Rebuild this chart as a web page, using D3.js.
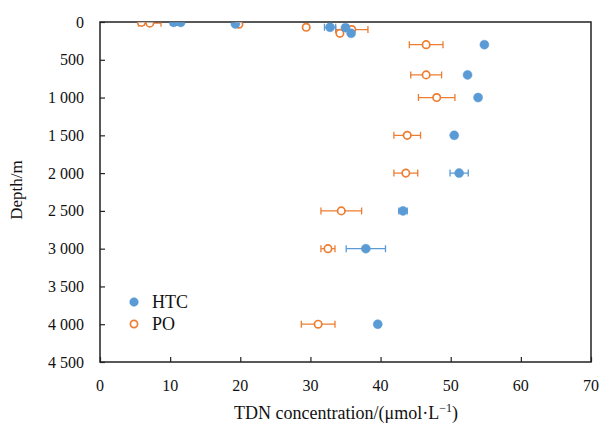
<!DOCTYPE html>
<html>
<head>
<meta charset="utf-8">
<script src="https://cdn.jsdelivr.net/npm/d3@7/dist/d3.min.js"></script>
<style>
  html, body { margin: 0; padding: 0; background: #fff; }
  svg { display: block; font-family: "Liberation Serif", "Times New Roman", serif; }
</style>
</head>
<body>
<svg id="chart" width="600" height="423"></svg>
<script>
// TDN concentration profiles by depth, with standard deviation
const htcDepth = [5, 5, 25, 70, 75, 150, 300, 700, 1000, 1500, 2000, 2500, 3000, 4000];
const htcValue = [10.5, 11.5, 19.3, 32.8, 35.0, 35.8, 54.8, 52.4, 53.9, 50.5, 51.2, 43.2, 37.9, 39.6];
const htcError = [0.4, 0.4, 0.3, 0.8, 0.4, 0.3, 0.3, 0.2, 0.3, 0.2, 1.3, 0.6, 2.8, 0.2];

const poDepth = [5, 15, 30, 70, 100, 150, 300, 700, 1000, 1500, 2000, 2500, 3000, 4000];
const poValue = [5.9, 7.1, 19.8, 29.4, 35.9, 34.2, 46.5, 46.5, 48.0, 43.8, 43.6, 34.4, 32.5, 31.1];
const poError = [0.4, 1.6, 0.3, 0.3, 2.3, 0.3, 2.4, 2.2, 2.6, 1.9, 1.7, 2.9, 1.0, 2.4];

const xTicks = [0, 10, 20, 30, 40, 50, 60, 70];
const yTicks = [0, 500, 1000, 1500, 2000, 2500, 3000, 3500, 4000, 4500];
const seriesNames = ["HTC", "PO"];

const blue = "#5B9BD5", orange = "#ED7D31";
const plotLeft = 100, plotRight = 591, plotTop = 22, plotBottom = 362;

const svg = d3.select("#chart");
const x = d3.scaleLinear().domain([0, 70]).range([plotLeft, plotRight]);
const y = d3.scaleLinear().domain([0, 4500]).range([plotTop, plotBottom]);

const fmtSp = v => d3.format(",")(v).replace(/,/g, " ");

// frame
svg.append("rect")
  .attr("x", plotLeft).attr("y", plotTop)
  .attr("width", plotRight - plotLeft).attr("height", plotBottom - plotTop)
  .attr("fill", "none").attr("stroke", "#222").attr("stroke-width", 1.5);

// axes with inward ticks
const yAxis = svg.append("g").attr("transform", `translate(${plotLeft},0)`)
  .call(d3.axisRight(y).tickValues(yTicks).tickSize(5).tickFormat(""));
yAxis.select(".domain").remove();
yAxis.selectAll("line").attr("stroke", "#222").attr("stroke-width", 1.2);

const xAxis = svg.append("g").attr("transform", `translate(0,${plotBottom})`)
  .call(d3.axisTop(x).tickValues(xTicks).tickSize(5).tickFormat(""));
xAxis.select(".domain").remove();
xAxis.selectAll("line").attr("stroke", "#222").attr("stroke-width", 1.2);

// tick labels
svg.append("g").selectAll("text").data(yTicks).join("text")
  .attr("x", 84).attr("y", d => y(d)).attr("dy", "0.35em")
  .attr("text-anchor", "end").attr("font-size", 16).attr("fill", "#111")
  .text(fmtSp);

svg.append("g").selectAll("text").data(xTicks).join("text")
  .attr("x", d => x(d)).attr("y", 385).attr("dy", "0.35em")
  .attr("text-anchor", "middle").attr("font-size", 16).attr("fill", "#111")
  .text(d => d);

// axis titles
const xt = svg.append("text").attr("x", 346).attr("y", 419)
  .attr("text-anchor", "middle").attr("font-size", 18).attr("fill", "#111");
xt.append("tspan").text("TDN concentration/(\u03bcmol\u00b7L");
xt.append("tspan").attr("font-size", 12).attr("dy", -7).text("\u22121");
xt.append("tspan").attr("dy", 7).text(")");

svg.append("text")
  .attr("transform", "translate(22,190) rotate(-90)")
  .attr("text-anchor", "middle").attr("font-size", 17).attr("fill", "#111")
  .text("Depth/m");

// plot area clip
svg.append("clipPath").attr("id", "plotClip")
  .append("rect").attr("x", plotLeft).attr("y", plotTop + 0.5)
  .attr("width", plotRight - plotLeft).attr("height", plotBottom - plotTop);

const plot = svg.append("g").attr("clip-path", "url(#plotClip)");

function drawSeries(depths, values, errors, color, filled) {
  const rows = depths.map((d, i) => ({ d, v: values[i], e: errors[i] }));
  const g = plot.append("g");
  const eb = g.selectAll("g.err").data(rows).join("g").attr("class", "err")
    .attr("stroke", color).attr("stroke-width", 1.3);
  eb.append("line")
    .attr("x1", r => x(r.v - r.e)).attr("x2", r => x(r.v + r.e))
    .attr("y1", r => y(r.d)).attr("y2", r => y(r.d));
  eb.append("line")
    .attr("x1", r => x(r.v - r.e)).attr("x2", r => x(r.v - r.e))
    .attr("y1", r => y(r.d) - 3.5).attr("y2", r => y(r.d) + 3.5);
  eb.append("line")
    .attr("x1", r => x(r.v + r.e)).attr("x2", r => x(r.v + r.e))
    .attr("y1", r => y(r.d) - 3.5).attr("y2", r => y(r.d) + 3.5);
  g.selectAll("circle").data(rows).join("circle")
    .attr("cx", r => x(r.v)).attr("cy", r => y(r.d))
    .attr("r", filled ? 4.5 : 3.7)
    .attr("fill", filled ? color : "#fff")
    .attr("stroke", color).attr("stroke-width", filled ? 0.5 : 1.7);
}

drawSeries(poDepth, poValue, poError, orange, false);
drawSeries(htcDepth, htcValue, htcError, blue, true);

// legend
const legend = svg.append("g");
const items = [
  { name: seriesNames[0], color: blue, filled: true, cy: 302 },
  { name: seriesNames[1], color: orange, filled: false, cy: 324 }
];
items.forEach(it => {
  legend.append("circle").attr("cx", 134).attr("cy", it.cy)
    .attr("r", it.filled ? 4.3 : 3.6)
    .attr("fill", it.filled ? it.color : "#fff")
    .attr("stroke", it.color).attr("stroke-width", it.filled ? 0.5 : 1.7);
  legend.append("text").attr("x", 152).attr("y", it.cy).attr("dy", "0.35em")
    .attr("font-size", 18).attr("fill", "#111").text(it.name);
});
</script>
</body>
</html>
